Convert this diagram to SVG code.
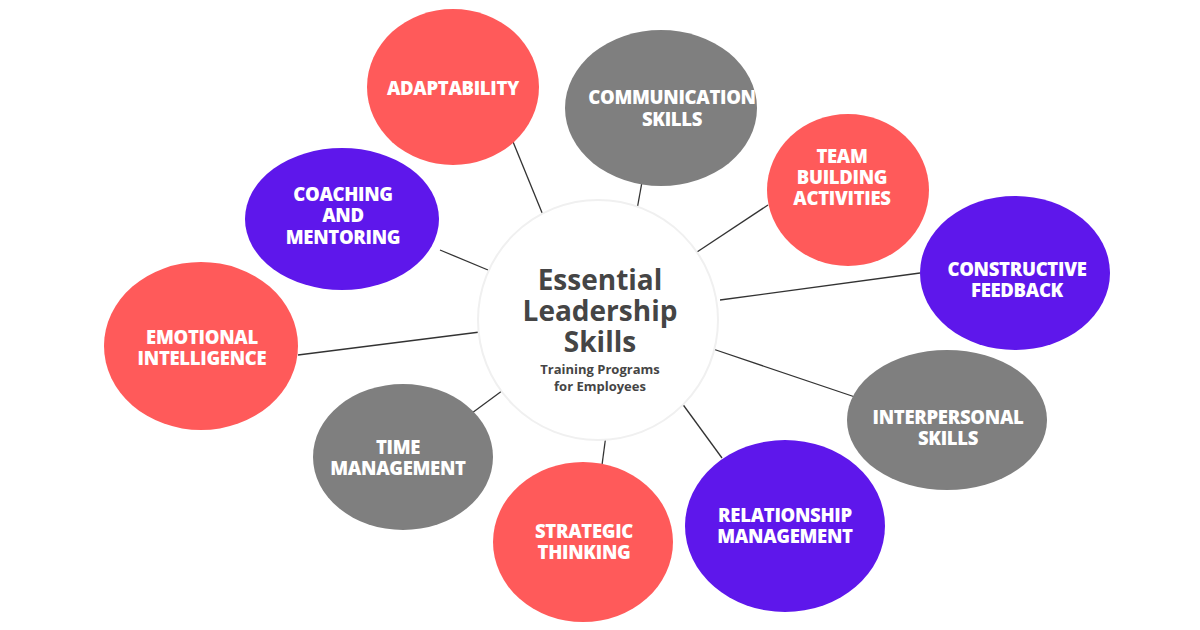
<svg xmlns="http://www.w3.org/2000/svg" width="1200" height="630" viewBox="0 0 1200 630">
<style>
.r{fill:#FF5A5A}.g{fill:#7F7F7F}.p{fill:#5E17EB}
.t{font-family:"Open Sans","Liberation Sans",sans-serif;font-weight:800;font-size:18.5px;fill:#fff;text-anchor:middle;letter-spacing:-0.3px}
.c{font-family:"Open Sans","Liberation Sans",sans-serif;font-weight:700;fill:#454545;text-anchor:middle}
.l{stroke:#333;stroke-width:1.3;fill:none}
</style>
<rect width="1200" height="630" fill="#fff"/>
<g id="connectors">
<line class="l" x1="500" y1="110" x2="545" y2="220"/>
<line class="l" x1="642" y1="182" x2="636" y2="215"/>
<line class="l" x1="768" y1="205" x2="697" y2="252"/>
<line class="l" x1="920" y1="273" x2="720" y2="300"/>
<line class="l" x1="713" y1="349" x2="855" y2="397"/>
<line class="l" x1="676" y1="395" x2="722" y2="458"/>
<line class="l" x1="608" y1="420" x2="602" y2="465"/>
<line class="l" x1="510" y1="385" x2="472" y2="413"/>
<line class="l" x1="298" y1="355" x2="480" y2="332"/>
<line class="l" x1="440" y1="250" x2="488" y2="270"/>
</g>
<g id="center">
<circle cx="598" cy="320" r="120" fill="#fff" stroke="#f0f0f0" stroke-width="2"/>
<text class="c" font-size="28" x="600" y="290">Essential</text>
<text class="c" font-size="28" x="600" y="321">Leadership</text>
<text class="c" font-size="28" x="600" y="352">Skills</text>
<text class="c" font-size="13" x="600" y="374">Training Programs</text>
<text class="c" font-size="13" x="600" y="391">for Employees</text>
</g>
<g id="adaptability"><ellipse class="r" cx="453" cy="87" rx="86" ry="78"/><text class="t" x="453" y="95">ADAPTABILITY</text></g>
<g id="communication"><ellipse class="g" cx="661" cy="108" rx="96" ry="78"/><text class="t" x="672" y="104">COMMUNICATION</text><text class="t" x="672" y="126">SKILLS</text></g>
<g id="team"><ellipse class="r" cx="848" cy="190" rx="81" ry="76"/><text class="t" x="842" y="163">TEAM</text><text class="t" x="842" y="184">BUILDING</text><text class="t" x="842" y="205">ACTIVITIES</text></g>
<g id="feedback"><ellipse class="p" cx="1015" cy="273" rx="95" ry="77"/><text class="t" x="1017" y="276">CONSTRUCTIVE</text><text class="t" x="1017" y="297">FEEDBACK</text></g>
<g id="interpersonal"><ellipse class="g" cx="947" cy="420" rx="100" ry="70"/><text class="t" x="948" y="424">INTERPERSONAL</text><text class="t" x="948" y="445">SKILLS</text></g>
<g id="relationship"><ellipse class="p" cx="785" cy="526" rx="100" ry="86"/><text class="t" x="785" y="522">RELATIONSHIP</text><text class="t" x="785" y="543">MANAGEMENT</text></g>
<g id="strategic"><ellipse class="r" cx="583" cy="542" rx="90" ry="80"/><text class="t" x="584" y="538">STRATEGIC</text><text class="t" x="584" y="559">THINKING</text></g>
<g id="time"><ellipse class="g" cx="403" cy="457" rx="90" ry="73"/><text class="t" x="398" y="454">TIME</text><text class="t" x="398" y="475">MANAGEMENT</text></g>
<g id="emotional"><ellipse class="r" cx="201" cy="346" rx="97" ry="84"/><text class="t" x="202" y="344">EMOTIONAL</text><text class="t" x="202" y="365">INTELLIGENCE</text></g>
<g id="coaching"><ellipse class="p" cx="342" cy="219" rx="97" ry="71"/><text class="t" x="343" y="201">COACHING</text><text class="t" x="343" y="222">AND</text><text class="t" x="343" y="244">MENTORING</text></g>
</svg>
